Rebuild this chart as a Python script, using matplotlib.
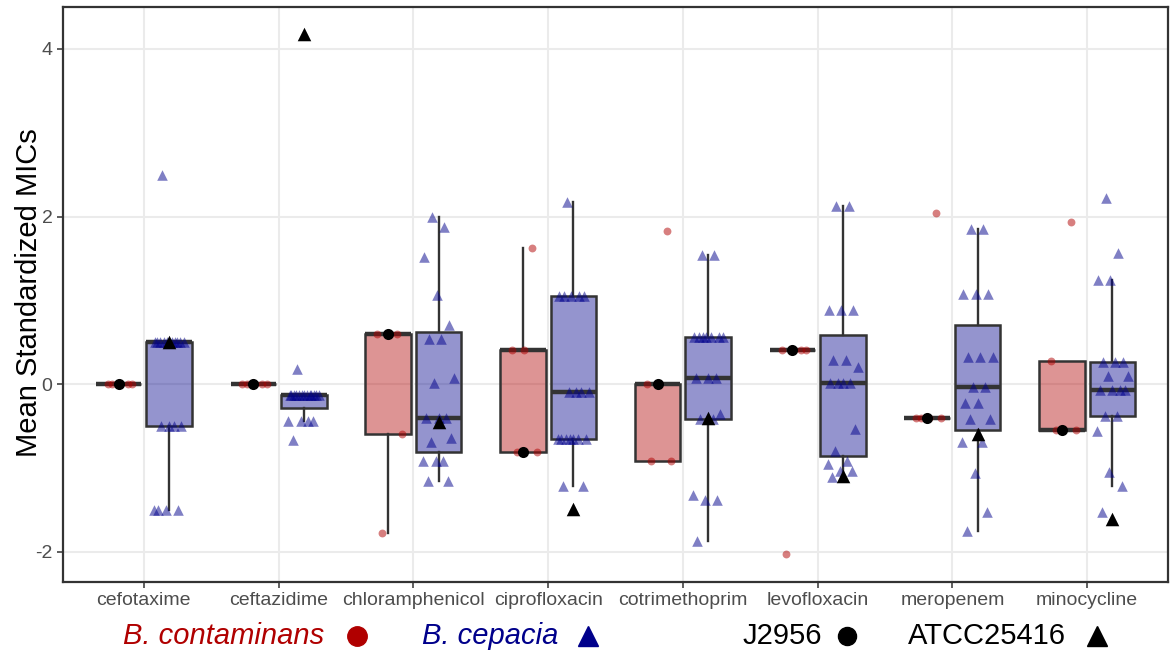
import numpy as np
import matplotlib
matplotlib.use("Agg")
import matplotlib.pyplot as plt
from matplotlib.lines import Line2D

plt.rcParams['font.family'] = ['Liberation Sans', 'DejaVu Sans']
plt.rcParams['axes.unicode_minus'] = False

antibiotics = ['cefotaxime', 'ceftazidime', 'chloramphenicol', 'ciprofloxacin',
               'cotrimethoprim', 'levofloxacin', 'meropenem', 'minocycline']

# B. contaminans isolates, mean standardized MICs per antibiotic
bcon_cefotaxime = [0, 0, 0, 0, 0]
bcon_ceftazidime = [0, 0, 0, 0, 0]
bcon_chloramphenicol = [-1.78, -0.59, 0.6, 0.6, 0.6]
bcon_ciprofloxacin = [-0.81, -0.81, 0.41, 0.41, 1.63]
bcon_cotrimethoprim = [-0.92, -0.92, 0, 0, 1.83]
bcon_levofloxacin = [-2.03, 0.41, 0.41, 0.41, 0.41]
bcon_meropenem = [-0.4, -0.4, -0.4, -0.4, 2.04]
bcon_minocycline = [-0.55, -0.55, -0.55, 0.28, 1.93]

# B. cepacia isolates
bcep_cefotaxime = [-1.5, -1.5, -1.5, -1.5, -0.5, -0.5, -0.5, -0.5,
                   0.5, 0.5, 0.5, 0.5, 0.5, 0.5, 0.5, 0.5, 0.5, 0.5, 2.5]
bcep_ceftazidime = [-0.67, -0.44, -0.44, -0.44, -0.44, -0.13, -0.13, -0.13, -0.13, -0.13,
                    -0.13, -0.13, -0.13, -0.13, -0.13, -0.13, -0.13, -0.13, 0.18]
bcep_chloramphenicol = [-1.16, -1.16, -0.92, -0.92, -0.92, -0.69, -0.64, -0.4, -0.4, -0.4,
                        0.01, 0.07, 0.54, 0.54, 0.71, 1.06, 1.52, 1.88, 2.0]
bcep_ciprofloxacin = [-1.21, -1.21, -0.65, -0.65, -0.65, -0.65, -0.65, -0.65, -0.65, -0.09,
                      -0.09, -0.09, -0.09, 1.05, 1.05, 1.05, 1.05, 1.05, 2.17]
bcep_cotrimethoprim = [-1.87, -1.38, -1.38, -1.32, -0.42, -0.42, -0.35, 0.07, 0.07, 0.07,
                       0.56, 0.56, 0.56, 0.56, 0.56, 0.56, 0.56, 1.54, 1.54]
bcep_levofloxacin = [-1.11, -1.03, -1.03, -0.95, -0.92, -0.8, -0.54, 0.01, 0.01, 0.01,
                     0.01, 0.21, 0.29, 0.29, 0.89, 0.89, 0.89, 2.13, 2.13]
bcep_meropenem = [-1.75, -1.53, -1.06, -0.69, -0.69, -0.41, -0.41, -0.22, -0.22, -0.03,
                  -0.03, 0.33, 0.33, 0.33, 1.08, 1.08, 1.08, 1.85, 1.85]
bcep_minocycline = [-1.53, -1.21, -1.05, -0.56, -0.38, -0.38, -0.07, -0.07, -0.07, -0.07,
                    0.1, 0.1, 0.27, 0.27, 0.27, 1.24, 1.24, 1.56, 2.22]

# reference strains
j2956 = [0, 0, 0.6, -0.81, 0, 0.41, -0.4, -0.55]
atcc25416 = [0.5, 4.18, -0.45, -1.49, -0.4, -1.09, -0.6, -1.61]

bcon = [bcon_cefotaxime, bcon_ceftazidime, bcon_chloramphenicol, bcon_ciprofloxacin,
        bcon_cotrimethoprim, bcon_levofloxacin, bcon_meropenem, bcon_minocycline]
bcep = [bcep_cefotaxime, bcep_ceftazidime, bcep_chloramphenicol, bcep_ciprofloxacin,
        bcep_cotrimethoprim, bcep_levofloxacin, bcep_meropenem, bcep_minocycline]

RED = '#B00000'
BLUE = '#00008B'
EDGE = '#333333'
DODGE = 0.1875
BOX_W = 0.3375
JITTER = 0.12

W, H = 1173, 651
fig = plt.figure(figsize=(W / 100, H / 100), dpi=100)
ax = fig.add_axes([63 / W, (H - 582) / H, (1168 - 63) / W, (582 - 7) / H])

x = np.arange(1, len(antibiotics) + 1)


def draw_group(groups, offset, color, marker, size, phase):
    pos = x + offset
    bp = ax.boxplot(groups, positions=pos, widths=BOX_W, patch_artist=True,
                    showfliers=False, showcaps=False, whis=1.5,
                    medianprops=dict(color=EDGE, linewidth=3.2, solid_capstyle='butt'),
                    whiskerprops=dict(color=EDGE, linewidth=1.7),
                    boxprops=dict(edgecolor=EDGE, linewidth=1.8),
                    manage_ticks=False, zorder=2)
    fc = matplotlib.colors.to_rgba(color, 0.42)
    for patch in bp['boxes']:
        patch.set_facecolor(fc)
    # horizontal jitter, spread evenly along the golden-ratio sequence
    for p, vals in zip(pos, groups):
        n = len(vals)
        jit = ((np.arange(n) * 0.618034 + phase) % 1.0 * 2 - 1) * JITTER
        ax.scatter(p + jit, vals, s=size, marker=marker, color=color, alpha=0.5,
                   linewidths=0, zorder=3)


draw_group(bcon, -DODGE, RED, 'o', 32, 0.31)
draw_group(bcep, DODGE, BLUE, '^', 58, 0.17)

ax.scatter(x - DODGE, j2956, s=64, marker='o', color='black', linewidths=0, zorder=4)
ax.scatter(x + DODGE, atcc25416, s=95, marker='^', color='black', linewidths=0, zorder=4)

ax.set_xlim(0.4, 8.6)
ax.set_ylim(-2.36, 4.5)
ax.set_xticks(x)
ax.set_xticklabels(antibiotics)
ax.set_yticks([-2, 0, 2, 4])
ax.grid(True, color='#EBEBEB', linewidth=1.5, zorder=0)
ax.set_axisbelow(True)
for sp in ax.spines.values():
    sp.set_color(EDGE)
    sp.set_linewidth(1.6)
ax.tick_params(axis='both', colors=EDGE, length=4, width=1.1, labelcolor='#4D4D4D',
               labelsize=14)


def fx(px):
    return px / W


def fy(py):
    return 1 - py / H


fig.text(fx(29), fy(293), 'Mean Standardized MICs', fontsize=21, color='black',
         rotation=90, ha='center', va='center')

# bottom key for species and reference strains
ly = 636
fig.text(fx(123), fy(ly), 'B. contaminans', color=RED, fontsize=21, style='italic',
         ha='left', va='center')
fig.add_artist(Line2D([fx(357)], [fy(ly)], marker='o', markersize=14, color=RED,
                      linestyle='none', transform=fig.transFigure))
fig.text(fx(422), fy(ly), 'B. cepacia', color=BLUE, fontsize=21, style='italic',
         ha='left', va='center')
fig.add_artist(Line2D([fx(588)], [fy(ly)], marker='^', markersize=15, color=BLUE,
                      linestyle='none', transform=fig.transFigure))
fig.text(fx(743), fy(ly), 'J2956', color='black', fontsize=21, ha='left', va='center')
fig.add_artist(Line2D([fx(847)], [fy(ly)], marker='o', markersize=13, color='black',
                      linestyle='none', transform=fig.transFigure))
fig.text(fx(908), fy(ly), 'ATCC25416', color='black', fontsize=21, ha='left', va='center')
fig.add_artist(Line2D([fx(1097)], [fy(ly)], marker='^', markersize=15, color='black',
                      linestyle='none', transform=fig.transFigure))

fig.savefig('out.png', dpi=100)
